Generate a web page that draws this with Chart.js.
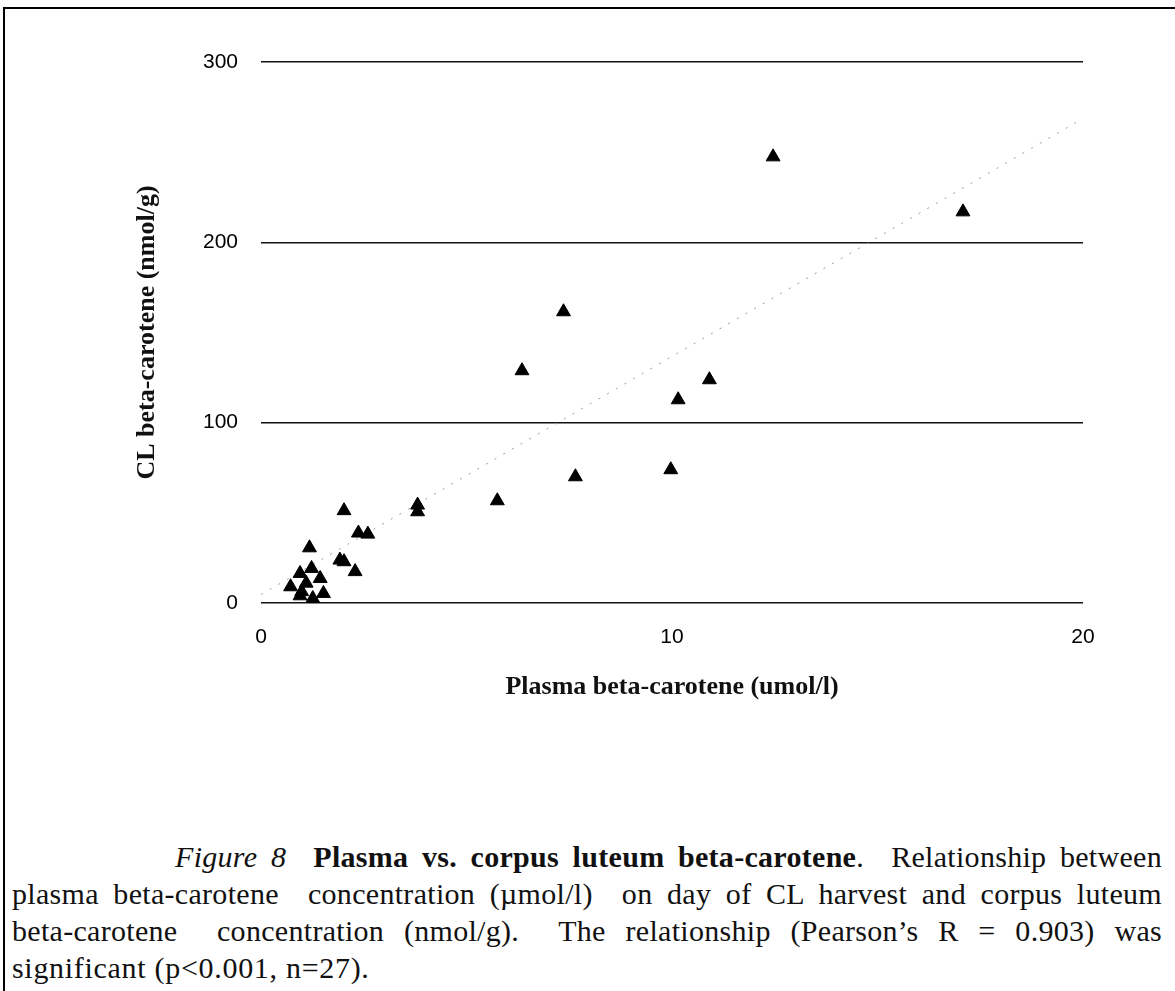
<!DOCTYPE html>
<html>
<head>
<meta charset="utf-8">
<script src="https://cdn.jsdelivr.net/npm/chart.js@4.4.0/dist/chart.umd.min.js"></script>
<style>
  body { margin:0; background:#fff; width:1175px; height:991px; overflow:hidden; position:relative; }
  #frame { position:absolute; left:3px; top:7px; width:1200px; height:1000px; border-top:2px solid #000; border-left:2px solid #000; }
  #chartBox { position:absolute; left:0; top:0; width:1175px; height:720px; }
  #caption { position:absolute; left:12px; top:838px; width:1150px; font-family:"Liberation Serif", serif; font-size:30px; letter-spacing:0.3px; line-height:37px; color:#111; }
  #caption div { text-align:justify; text-align-last:justify; }
  #caption div.first { padding-left:163px; }
  #caption div.last { text-align-last:left; letter-spacing:0.7px; }
</style>
</head>
<body>
<div id="frame"></div>
<div id="chartBox"><canvas id="myChart" width="1175" height="720"></canvas></div>
<div id="caption">
  <div class="first"><i>Figure 8</i>&nbsp; <b>Plasma vs. corpus luteum beta-carotene</b>.&nbsp; Relationship between</div>
  <div>plasma beta-carotene&nbsp; concentration (µmol/l)&nbsp; on day of CL harvest and corpus luteum</div>
  <div>beta-carotene&nbsp; concentration (nmol/g).&nbsp; The relationship (Pearson’s R = 0.903) was</div>
  <div class="last">significant (p&lt;0.001, n=27).</div>
</div>
<script>
// plasma beta-carotene (umol/l) vs CL beta-carotene (nmol/g)
var plasmaX = [12.46, 17.08, 7.36, 6.35, 10.91, 10.15, 9.97, 7.65, 5.75, 3.81, 3.81, 2.02, 2.37, 2.60,
               1.18, 1.92, 2.02, 2.29, 0.95, 1.23, 1.44, 0.72, 0.99, 1.52, 1.26, 0.95, 1.10];
var clY = [247.4, 216.9, 161.5, 128.8, 123.8, 112.7, 73.9, 70.0, 56.7, 54.3, 50.6, 51.2, 38.8, 38.2,
           30.6, 23.8, 22.9, 17.4, 16.4, 19.2, 13.6, 9.0, 6.3, 5.3, 2.5, 4.0, 11.0];

// regression line ends
var trendX = [0, 20];
var trendY = [4.7, 268.7];

var xTicks = [0, 10, 20];
var yTicks = [0, 100, 200, 300];

var points = [];
for (var i = 0; i < plasmaX.length; i++) {
  points.push({x: plasmaX[i], y: clY[i]});
}
var trend = [];
for (var j = 0; j < trendX.length; j++) {
  trend.push({x: trendX[j], y: trendY[j]});
}

var tickFont = {family: 'Liberation Sans, Arial, sans-serif', size: 21};
var titleFont = {family: 'Liberation Serif, Times New Roman, serif', size: 26, weight: 'bold'};

var ctx = document.getElementById('myChart').getContext('2d');
var myChart = new Chart(ctx, {
  type: 'scatter',
  data: {
    datasets: [{
      type: 'line',
      label: 'trend',
      data: trend,
      borderColor: '#9a9a9a',
      borderWidth: 1,
      borderDash: [2, 8],
      pointRadius: 0,
      fill: false,
      order: 2
    }, {
      label: 'CL',
      data: points,
      pointStyle: 'triangle',
      pointRadius: 8,
      pointHoverRadius: 8,
      backgroundColor: '#000',
      borderColor: '#000',
      borderWidth: 1,
      order: 1
    }]
  },
  options: {
    responsive: false,
    animation: false,
    layout: { padding: {top: 62, right: 92, bottom: 7, left: 0} },
    plugins: { legend: {display: false}, tooltip: {enabled: false} },
    scales: {
      x: {
        type: 'linear',
        min: 0,
        max: 20,
        afterBuildTicks: function(s) { s.ticks = xTicks.map(function(v) { return {value: v}; }); },
        afterFit: function(s) { s.height = 110; },
        grid: { display: false },
        border: { display: false },
        ticks: { font: tickFont, color: '#000', padding: 14, maxRotation: 0 },
        title: { display: true, text: 'Plasma beta-carotene (umol/l)', font: titleFont, color: '#111', padding: {top: 0, bottom: 10} }
      },
      y: {
        min: 0,
        max: 300,
        afterBuildTicks: function(s) { s.ticks = yTicks.map(function(v) { return {value: v}; }); },
        afterFit: function(s) { s.width = 261; },
        grid: { color: '#111', lineWidth: 1.6, drawTicks: false },
        border: { display: false },
        ticks: { font: tickFont, color: '#000', padding: 23 },
        title: { display: true, text: 'CL beta-carotene (nmol/g)', font: titleFont, color: '#111', padding: {top: 132, bottom: 0} }
      }
    }
  }
});
</script>
</body>
</html>
